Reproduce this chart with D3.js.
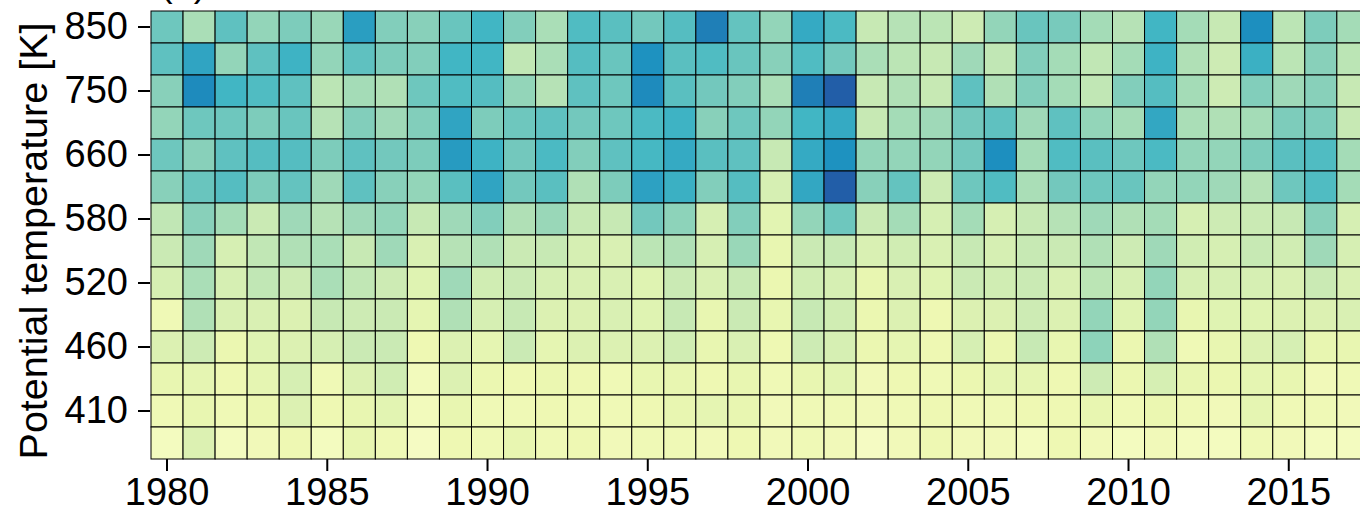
<!DOCTYPE html>
<html>
<head>
<meta charset="utf-8">
<script src="https://cdn.jsdelivr.net/npm/d3@7"></script>
<style>
  html, body { margin: 0; padding: 0; background: #ffffff; }
  svg { display: block; font-family: "Liberation Sans", Arial, sans-serif; }
</style>
</head>
<body>
<div id="chart"></div>
<script>
// Heatmap of occurrence by year and potential temperature level.

const years = d3.range(1980, 2018);
const levels = [850, 800, 750, 700, 660, 620, 580, 550, 520, 490, 460, 435, 410, 390];
const levelTicks = [850, 750, 660, 580, 520, 460, 410];
const yearTicks = [1980, 1985, 1990, 1995, 2000, 2005, 2010, 2015];

// one row per level, 1980 -> 2017
const th850 = [41,30,44,34,38,33,58,37,36,42,50,37,30, 47,45,40,46,67,43,34,54,48,25,28,27,23, 34,42,39,31,28,50,31,25,63,27,38,31];
const th800 = [44,56,34,44,51,34,44,38,37,50,50,26,30, 46,42,62,45,47,42,36,47,40,30,27,25,32, 26,37,31,26,31,51,29,23,52,27,36,27];
const th750 = [36,64,50,47,44,27,31,29,41,47,46,34,28, 44,41,64,45,40,37,30,67,75,25,29,25,44, 29,37,31,26,37,46,31,23,37,32,36,25];
const th700 = [34,41,41,38,42,28,37,32,37,56,38,41,44, 40,41,48,51,36,41,34,50,54,25,31,32,40, 44,32,44,34,31,55,30,29,31,38,38,25];
const th660 = [41,36,44,46,46,38,44,40,38,59,51,40,48, 37,44,49,54,45,44,25,54,62,34,34,34,40, 63,31,47,45,41,48,34,34,38,45,47,31];
const th620 = [36,42,46,38,43,32,44,36,34,45,56,40,45, 29,38,57,52,37,46,20,55,75,36,43,23,41, 47,30,40,41,42,34,34,32,28,41,47,31];
const th580 = [26,36,31,24,32,28,32,34,25,32,37,29,33, 25,25,40,35,20,37,16,34,41,24,31,20,31, 20,25,28,32,29,31,20,23,24,25,36,20];
const th550 = [24,32,20,26,29,30,25,32,19,28,29,24,25, 20,19,27,29,20,33,14,24,25,19,22,19,25, 20,25,24,29,23,32,22,20,25,22,32,20];
const th520 = [20,30,20,26,23,30,26,23,17,32,22,24,20, 19,19,17,24,19,25,13,22,20,14,19,17,24, 22,24,19,27,20,34,20,20,20,19,24,19];
const th490 = [11,29,19,19,18,25,23,24,15,29,20,25,18, 18,19,17,25,14,24,14,25,22,13,18,12,18, 18,23,18,34,17,34,14,17,17,18,18,19];
const th460 = [18,23,13,17,18,20,24,24,12,18,15,24,15, 18,18,18,22,14,19,12,23,20,13,15,12,20, 13,25,14,35,13,29,11,14,18,20,14,14];
const th435 = [14,15,12,15,20,11,18,22,9,18,13,12,13, 12,11,14,14,12,14,11,14,16,10,12,11,13, 15,15,12,23,13,20,14,13,15,14,10,11];
const th410 = [11,14,11,13,18,12,14,16,9,14,11,11,12, 11,11,12,14,15,14,10,11,11,10,11,12,11, 11,12,12,14,11,13,11,10,15,11,11,10];
const th390 = [8,18,8,10,12,8,14,11,7,12,11,14,11, 12,10,11,11,10,12,10,11,10,7,10,12,10, 10,8,12,10,8,10,8,8,11,10,8,8];

const rows = [th850, th800, th750, th700, th660, th620, th580, th550, th520, th490, th460, th435, th410, th390];

// YlGnBu, 9 ColorBrewer stops, linear between them
const ylgnbu = ['#ffffd9', '#edf8b1', '#c7e9b4', '#7fcdbb', '#41b6c4', '#1d91c0', '#225ea8', '#253494', '#081d58'];

const width = 1360;
const height = 510;

const svg = d3.select('#chart')
    .append('svg')
    .attr('width', width)
    .attr('height', height);

// 1. Scales
const cellW = 32.05;
const x = d3.scaleBand()
    .domain(years)
    .range([151, 151 + years.length * cellW]);
const y = d3.scaleBand()
    .domain(levels)
    .range([11, 459]);
const color = d3.scaleLinear()
    .domain(d3.range(ylgnbu.length).map(i => i * 100 / (ylgnbu.length - 1)))
    .range(ylgnbu)
    .interpolate(d3.interpolateRgb)
    .clamp(true);

// 2. Cells
const cells = [];
rows.forEach(function(row, i) {
    row.forEach(function(v, j) {
        cells.push({ year: years[j], level: levels[i], value: v });
    });
});

svg.append('g')
    .attr('class', 'cells')
    .selectAll('rect')
    .data(cells)
    .join('rect')
    .attr('x', d => x(d.year))
    .attr('y', d => y(d.level))
    .attr('width', x.bandwidth())
    .attr('height', y.bandwidth())
    .attr('fill', d => color(d.value))
    .attr('stroke', '#000000')
    .attr('stroke-width', 1);

// 3. Axes
const yAxis = svg.append('g')
    .attr('transform', 'translate(150,0)')
    .call(d3.axisLeft(y).tickValues(levelTicks).tickSize(12).tickPadding(10));

const xAxis = svg.append('g')
    .attr('transform', 'translate(0,459)')
    .call(d3.axisBottom(x).tickValues(yearTicks).tickSize(12).tickPadding(7));

[yAxis, xAxis].forEach(function(ax) {
    ax.select('.domain').remove();
    ax.selectAll('.tick line').attr('stroke', '#000').attr('stroke-width', 2);
    ax.selectAll('.tick text')
        .attr('fill', '#000')
        .attr('font-size', '38px')
        .attr('font-family', '"Liberation Sans", Arial, sans-serif');
});

// 4. Axis title and panel label
svg.append('text')
    .attr('transform', 'translate(47,241) rotate(-90)')
    .attr('text-anchor', 'middle')
    .attr('font-size', '39.5px')
    .attr('fill', '#000')
    .text('Potential temperature [K]');

svg.append('text')
    .attr('x', 160)
    .attr('y', -4)
    .attr('font-size', '38px')
    .attr('fill', '#000')
    .text('(a)');
</script>
</body>
</html>
